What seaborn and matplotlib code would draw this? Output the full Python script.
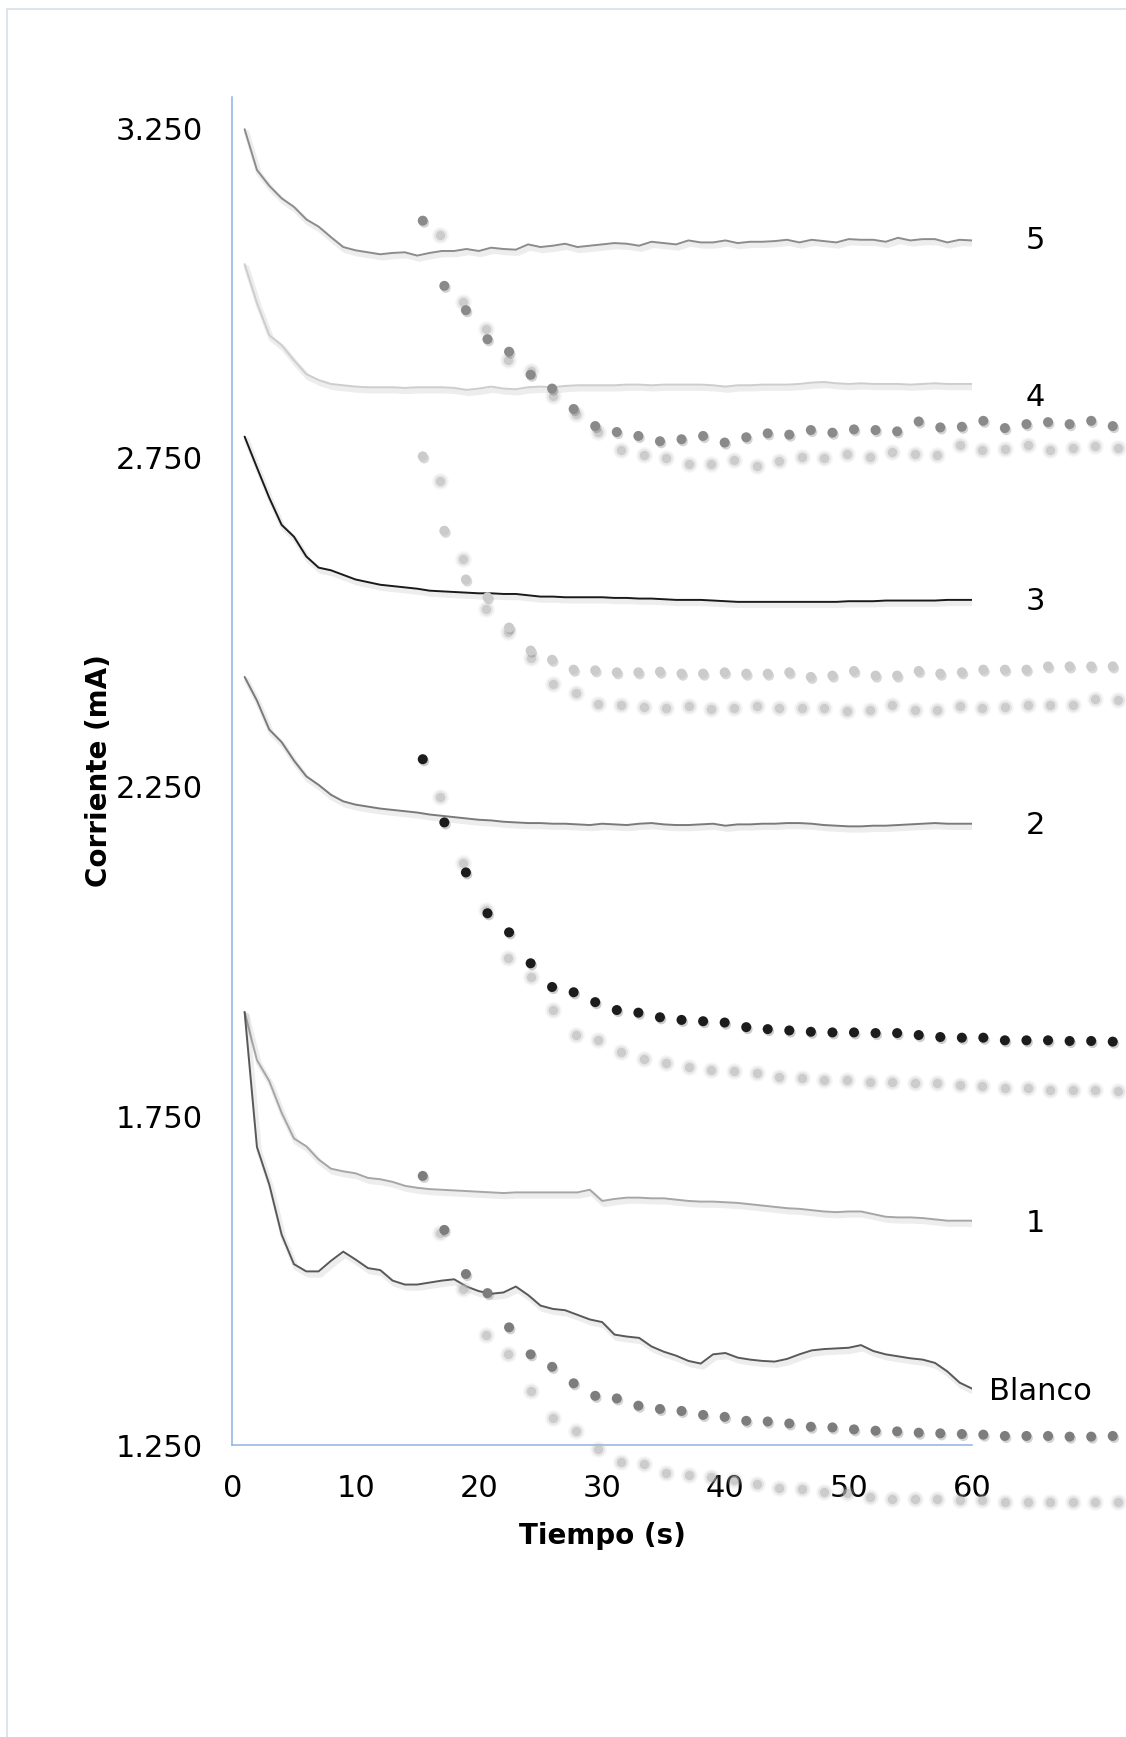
import numpy as np
import pandas as pd
import matplotlib
matplotlib.use('Agg')
import matplotlib.pyplot as plt
import matplotlib.patheffects as pe
from matplotlib.lines import Line2D
import seaborn as sns

# time axis of the chronoamperometry curves (s)
t = np.arange(1, 61)

curve_5 = [3.249, 3.187, 3.163, 3.144, 3.131, 3.112, 3.101, 3.085, 3.070, 3.065,
           3.062, 3.059, 3.061, 3.062, 3.057, 3.061, 3.064, 3.064, 3.067, 3.064,
           3.069, 3.067, 3.066, 3.074, 3.070, 3.072, 3.075, 3.070, 3.072, 3.074,
           3.076, 3.075, 3.072, 3.078, 3.076, 3.074, 3.080, 3.077, 3.077, 3.080,
           3.076, 3.078, 3.078, 3.079, 3.081, 3.077, 3.081, 3.079, 3.077, 3.082,
           3.081, 3.081, 3.078, 3.084, 3.080, 3.082, 3.082, 3.077, 3.081, 3.080]
curve_4 = [3.044, 2.985, 2.936, 2.921, 2.898, 2.877, 2.868, 2.862, 2.860, 2.858,
           2.857, 2.857, 2.857, 2.856, 2.857, 2.857, 2.857, 2.856, 2.853, 2.855,
           2.858, 2.855, 2.854, 2.857, 2.858, 2.857, 2.859, 2.860, 2.860, 2.860,
           2.860, 2.861, 2.861, 2.860, 2.861, 2.861, 2.861, 2.861, 2.860, 2.858,
           2.860, 2.860, 2.861, 2.861, 2.861, 2.862, 2.864, 2.865, 2.863, 2.862,
           2.863, 2.862, 2.862, 2.862, 2.861, 2.862, 2.863, 2.862, 2.862, 2.862]
curve_3 = [2.782, 2.735, 2.689, 2.648, 2.630, 2.600, 2.583, 2.579, 2.572, 2.565,
           2.561, 2.557, 2.555, 2.553, 2.551, 2.548, 2.547, 2.546, 2.545, 2.544,
           2.544, 2.543, 2.543, 2.541, 2.539, 2.539, 2.538, 2.538, 2.538, 2.538,
           2.537, 2.537, 2.536, 2.536, 2.535, 2.534, 2.534, 2.534, 2.533, 2.532,
           2.531, 2.531, 2.531, 2.531, 2.531, 2.531, 2.531, 2.531, 2.531, 2.532,
           2.532, 2.532, 2.533, 2.533, 2.533, 2.533, 2.533, 2.534, 2.534, 2.534]
curve_2 = [2.417, 2.381, 2.337, 2.318, 2.290, 2.266, 2.253, 2.238, 2.228, 2.223,
           2.220, 2.217, 2.215, 2.213, 2.211, 2.208, 2.206, 2.204, 2.202, 2.200,
           2.199, 2.197, 2.196, 2.195, 2.195, 2.194, 2.194, 2.193, 2.192, 2.194,
           2.193, 2.192, 2.194, 2.195, 2.193, 2.192, 2.192, 2.193, 2.194, 2.191,
           2.193, 2.193, 2.194, 2.194, 2.195, 2.195, 2.194, 2.192, 2.191, 2.190,
           2.190, 2.191, 2.191, 2.192, 2.193, 2.194, 2.195, 2.194, 2.194, 2.194]
curve_1 = [1.908, 1.835, 1.803, 1.755, 1.716, 1.704, 1.684, 1.670, 1.666, 1.663,
           1.656, 1.654, 1.650, 1.644, 1.641, 1.639, 1.638, 1.637, 1.636, 1.635,
           1.634, 1.633, 1.634, 1.634, 1.634, 1.634, 1.634, 1.634, 1.638, 1.621,
           1.624, 1.626, 1.626, 1.625, 1.625, 1.623, 1.621, 1.620, 1.620, 1.619,
           1.618, 1.616, 1.614, 1.612, 1.610, 1.609, 1.607, 1.605, 1.604, 1.605,
           1.605, 1.601, 1.597, 1.596, 1.596, 1.595, 1.593, 1.591, 1.591, 1.591]
curve_blanco = [1.908, 1.703, 1.646, 1.570, 1.525, 1.514, 1.514, 1.530, 1.544, 1.532,
                1.519, 1.516, 1.500, 1.494, 1.494, 1.497, 1.500, 1.502, 1.491, 1.484,
                1.480, 1.482, 1.491, 1.478, 1.462, 1.457, 1.455, 1.448, 1.441, 1.437,
                1.418, 1.415, 1.413, 1.400, 1.392, 1.386, 1.378, 1.374, 1.388, 1.390,
                1.383, 1.380, 1.378, 1.377, 1.381, 1.388, 1.394, 1.396, 1.397, 1.398,
                1.402, 1.393, 1.388, 1.385, 1.382, 1.380, 1.375, 1.362, 1.345, 1.336]

curve_names = ['5', '4', '3', '2', '1', 'Blanco']
curve_colors = ['#8c8c8c', '#cdcdcd', '#1a1a1a', '#7a7a7a', '#a6a6a6', '#595959']
label_y = [3.080, 2.842, 2.531, 2.191, 1.587, 1.332]

# dotted series (sharp points and their soft, offset copies)
dot_t = [15.45, 17.20, 18.95, 20.70, 22.45, 24.20, 25.94, 27.69, 29.44, 31.19,
         32.94, 34.69, 36.44, 38.19, 39.94, 41.69, 43.43, 45.18, 46.93, 48.68,
         50.43, 52.18, 53.93, 55.68, 57.43, 59.18, 60.92, 62.67, 64.42, 66.17,
         67.92, 69.67, 71.42]
soft_t = [16.88, 18.71, 20.54, 22.38, 24.21, 26.04, 27.87, 29.70, 31.54, 33.37,
          35.20, 37.03, 38.86, 40.70, 42.53, 44.36, 46.19, 48.02, 49.86, 51.69,
          53.52, 55.35, 57.18, 59.02, 60.85, 62.68, 64.51, 66.34, 68.18, 70.01,
          71.84]

dots_a = [3.110, 3.011, 2.974, 2.930, 2.911, 2.876, 2.855, 2.824, 2.798, 2.789,
          2.783, 2.775, 2.778, 2.783, 2.773, 2.781, 2.787, 2.785, 2.792, 2.788,
          2.793, 2.792, 2.790, 2.805, 2.796, 2.797, 2.806, 2.795, 2.801, 2.804,
          2.801, 2.806, 2.798]
soft_a = [3.089, 2.987, 2.946, 2.899, 2.882, 2.844, 2.816, 2.789, 2.762, 2.754,
          2.749, 2.740, 2.741, 2.746, 2.737, 2.745, 2.751, 2.749, 2.756, 2.751,
          2.758, 2.756, 2.754, 2.769, 2.761, 2.763, 2.770, 2.761, 2.765, 2.767,
          2.765]
dots_b = [2.752, 2.639, 2.565, 2.538, 2.492, 2.457, 2.443, 2.428, 2.427, 2.424,
          2.424, 2.425, 2.422, 2.422, 2.424, 2.422, 2.422, 2.424, 2.417, 2.419,
          2.426, 2.419, 2.419, 2.426, 2.422, 2.424, 2.428, 2.428, 2.428, 2.433,
          2.433, 2.433, 2.433]
soft_b = [2.715, 2.596, 2.520, 2.485, 2.445, 2.406, 2.392, 2.376, 2.375, 2.371,
          2.370, 2.373, 2.369, 2.370, 2.373, 2.370, 2.370, 2.370, 2.365, 2.366,
          2.375, 2.366, 2.366, 2.373, 2.370, 2.371, 2.375, 2.375, 2.375, 2.383,
          2.382]
dots_c = [2.292, 2.196, 2.120, 2.058, 2.029, 1.982, 1.946, 1.938, 1.923, 1.911,
          1.907, 1.900, 1.896, 1.894, 1.892, 1.885, 1.882, 1.880, 1.878, 1.877,
          1.877, 1.876, 1.876, 1.873, 1.870, 1.869, 1.869, 1.865, 1.865, 1.865,
          1.864, 1.864, 1.863]
soft_c = [2.235, 2.135, 2.063, 1.990, 1.961, 1.911, 1.873, 1.865, 1.848, 1.836,
          1.831, 1.824, 1.820, 1.819, 1.816, 1.810, 1.807, 1.805, 1.804, 1.802,
          1.801, 1.800, 1.800, 1.797, 1.795, 1.792, 1.792, 1.789, 1.789, 1.789,
          1.788]
dots_d = [1.659, 1.577, 1.510, 1.481, 1.429, 1.388, 1.369, 1.344, 1.325, 1.321,
          1.310, 1.305, 1.302, 1.296, 1.293, 1.287, 1.286, 1.283, 1.278, 1.277,
          1.274, 1.272, 1.271, 1.269, 1.268, 1.267, 1.266, 1.264, 1.264, 1.264,
          1.263, 1.263, 1.264]
soft_d = [1.572, 1.488, 1.417, 1.388, 1.333, 1.291, 1.271, 1.244, 1.225, 1.221,
          1.208, 1.205, 1.202, 1.197, 1.191, 1.185, 1.183, 1.179, 1.177, 1.172,
          1.169, 1.168, 1.168, 1.167, 1.166, 1.164, 1.164, 1.164, 1.163, 1.163,
          1.163]

main_dots = [dots_a, dots_b, dots_c, dots_d]
main_colors = ['#8a8a8a', '#cbcbcb', '#1c1c1c', '#7d7d7d']
soft_dots = [soft_a, soft_b, soft_c, soft_d]

yticks = [1.25, 1.75, 2.25, 2.75, 3.25]
ytick_labels = ['1.250', '1.750', '2.250', '2.750', '3.250']
xticks = [0, 10, 20, 30, 40, 50, 60]

sns.set_theme(style='white')
plt.rcParams['font.family'] = ['DejaVu Sans']

fig = plt.figure(figsize=(11.26, 17.37), dpi=100)
ax = fig.add_axes([0.2063, 0.168, 0.6569, 0.7762])

line_fx = [pe.SimpleLineShadow(offset=(1.5, -2.5), shadow_color='black',
                               alpha=0.07, linewidth=4), pe.Normal()]
for name, vals, col in zip(curve_names, [curve_5, curve_4, curve_3, curve_2, curve_1, curve_blanco],
                           curve_colors):
    line = sns.lineplot(x=t, y=vals, color=col, lw=1.4, ax=ax, path_effects=line_fx)
for ln in ax.lines:
    ln.set_solid_joinstyle('round')

# soft copies: a few stacked translucent layers to mimic the blur
for soft in soft_dots:
    for size, alpha in [(150, 0.10), (95, 0.22), (45, 0.55)]:
        sns.scatterplot(x=soft_t, y=soft, color='#b5b5b5', s=size, alpha=alpha,
                        linewidth=0, clip_on=False, ax=ax, zorder=3)

dot_fx = [pe.SimplePatchShadow(offset=(1, -1.5), alpha=0.2), pe.Normal()]
for vals, col in zip(main_dots, main_colors):
    sns.scatterplot(x=dot_t, y=vals, color=col, s=52, linewidth=0,
                    clip_on=False, ax=ax, zorder=4, path_effects=dot_fx)

for name, yv in zip(curve_names, label_y):
    if name == 'Blanco':
        ax.text(61.4, yv, name, ha='left', va='center', fontsize=22, color='black')
    else:
        ax.text(65.15, yv, name, ha='center', va='center', fontsize=22, color='black')

ax.set_xlim(0, 60)
ax.set_ylim(1.25, 3.298)
ax.set_xticks(xticks)
ax.set_yticks(yticks)
ax.set_yticklabels(ytick_labels)
ax.tick_params(axis='both', length=0, pad=21, labelsize=22, colors='black')
for side in ['top', 'right']:
    ax.spines[side].set_visible(False)
for side in ['left', 'bottom']:
    ax.spines[side].set_color('#8eb4e3')
    ax.spines[side].set_linewidth(1.1)
ax.grid(False)

ax.set_xlabel('Tiempo (s)', fontsize=20, fontweight='bold', color='black')
ax.set_ylabel('Corriente (mA)', fontsize=20, fontweight='bold', color='black')
ax.xaxis.set_label_coords(0.5, -0.0567)
ax.yaxis.set_label_coords(-0.161, 0.5)

# outer chart frame (only top and left edges fall inside the picture)
fig.add_artist(Line2D([0.00666, 1.0], [0.99465, 0.99465], color='#d6dfe9', lw=1.2))
fig.add_artist(Line2D([0.00666, 0.00666], [0.0, 0.99465], color='#d6dfe9', lw=1.2))

fig.savefig('out.png', dpi=100, facecolor='white')
